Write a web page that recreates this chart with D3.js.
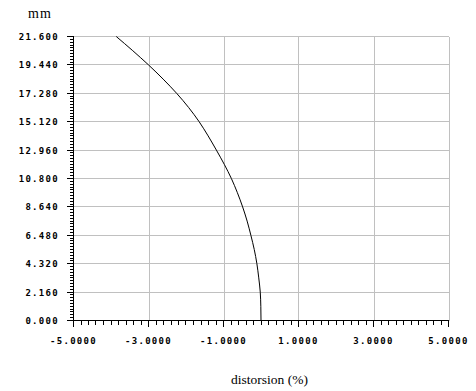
<!DOCTYPE html>
<html><head><meta charset="utf-8">
<script src="https://cdn.jsdelivr.net/npm/d3@7"></script>
<style>
html,body{margin:0;padding:0;background:#fff;}
svg{display:block;}
.tick-label{font-family:"DejaVu Sans Mono",monospace;font-weight:bold;font-size:9px;letter-spacing:1.3px;fill:#000;}
.title{font-family:"Liberation Serif","Times New Roman",serif;font-size:13.5px;fill:#000;}
</style>
</head><body>
<script>
// Data
const heightMm   = [0, 1.08, 2.16, 3.24, 4.32, 5.40, 6.48, 7.56, 8.64, 9.72, 10.80, 11.88, 12.96, 14.04, 15.12, 16.20, 17.28, 18.36, 19.44, 20.52, 21.60];
const distortion = [0, -0.005, -0.02, -0.06, -0.11, -0.18, -0.27, -0.37, -0.49, -0.63, -0.79, -0.98, -1.19, -1.41, -1.65, -1.93, -2.25, -2.61, -3.00, -3.42, -3.86];
const xTicks = [-5, -3, -1, 1, 3, 5];
const xTickLabels = ["-5.0000", "-3.0000", "-1.0000", "1.0000", "3.0000", "5.0000"];
const yTicks = [0, 2.16, 4.32, 6.48, 8.64, 10.80, 12.96, 15.12, 17.28, 19.44, 21.60];
const yTickLabels = ["0.000", "2.160", "4.320", "6.480", "8.640", "10.800", "12.960", "15.120", "17.280", "19.440", "21.600"];

const W = 476, H = 391;
const svg = d3.select("body").append("svg").attr("width", W).attr("height", H);

const x = d3.scaleLinear().domain([-5, 5]).range([73.5, 448.5]);
const y = d3.scaleLinear().domain([0, 21.6]).range([320.5, 36.5]);

// gridlines
const grid = svg.append("g").attr("stroke", "#c0c0c0").attr("stroke-width", 1).attr("shape-rendering", "crispEdges");
grid.selectAll("line.v").data(xTicks.slice(1)).join("line")
  .attr("x1", d => Math.round(x(d)) + 0.5).attr("x2", d => Math.round(x(d)) + 0.5)
  .attr("y1", y(21.6)).attr("y2", y(0));
grid.selectAll("line.h").data(yTicks.slice(1)).join("line")
  .attr("y1", d => Math.round(y(d) - 0.5) + 0.5).attr("y2", d => Math.round(y(d) - 0.5) + 0.5)
  .attr("x1", x(-5)).attr("x2", x(5));

// minor ticks
const xMinor = d3.range(0, 51).map(i => -5 + i * 0.2);
const yMinor = d3.range(0, 101).map(i => i * 0.216);

const axes = svg.append("g").attr("stroke", "#000").attr("stroke-width", 1).attr("shape-rendering", "crispEdges");
axes.selectAll("line.xm").data(xMinor).join("line")
  .attr("x1", d => Math.round(x(d) - 0.5) + 0.5).attr("x2", d => Math.round(x(d) - 0.5) + 0.5)
  .attr("y1", y(0)).attr("y2", y(0) + 4);
axes.selectAll("line.xM").data(xTicks).join("line")
  .attr("x1", d => Math.round(x(d) - 0.5) + 0.5).attr("x2", d => Math.round(x(d) - 0.5) + 0.5)
  .attr("y1", y(0)).attr("y2", y(0) + 6);
axes.selectAll("line.ym").data(yMinor).join("line")
  .attr("y1", d => Math.round(y(d) - 0.5) + 0.5).attr("y2", d => Math.round(y(d) - 0.5) + 0.5)
  .attr("x1", x(-5) - 4).attr("x2", x(-5));
axes.selectAll("line.yM").data(yTicks).join("line")
  .attr("y1", d => Math.round(y(d) - 0.5) + 0.5).attr("y2", d => Math.round(y(d) - 0.5) + 0.5)
  .attr("x1", x(-5) - 7).attr("x2", x(-5));
axes.append("line").attr("x1", x(-5)).attr("x2", x(-5)).attr("y1", y(21.6)).attr("y2", y(0));
axes.append("line").attr("x1", x(-5)).attr("x2", x(5)).attr("y1", y(0)).attr("y2", y(0));

// tick labels
svg.selectAll("text.xl").data(xTicks).join("text").attr("class", "tick-label")
  .attr("x", d => x(d)).attr("y", 344).attr("text-anchor", "middle")
  .text((d, i) => xTickLabels[i]);
svg.selectAll("text.yl").data(yTicks).join("text").attr("class", "tick-label")
  .attr("x", 59).attr("y", d => y(d) + 3.5).attr("text-anchor", "end")
  .text((d, i) => yTickLabels[i]);

// titles
svg.append("text").attr("class", "title").attr("x", 28).attr("y", 18).style("font-size", "14px").style("letter-spacing", "1px").text("mm");
svg.append("text").attr("class", "title").attr("x", 269.5).attr("y", 384).attr("text-anchor", "middle").text("distorsion (%)");

// curve
const pts = heightMm.map((h, i) => [distortion[i], h]);
svg.append("path").datum(pts)
  .attr("fill", "none").attr("stroke", "#000").attr("stroke-width", 1)
  .attr("d", d3.line().x(d => x(d[0])).y(d => y(d[1])).curve(d3.curveMonotoneY));
</script>
</body></html>
